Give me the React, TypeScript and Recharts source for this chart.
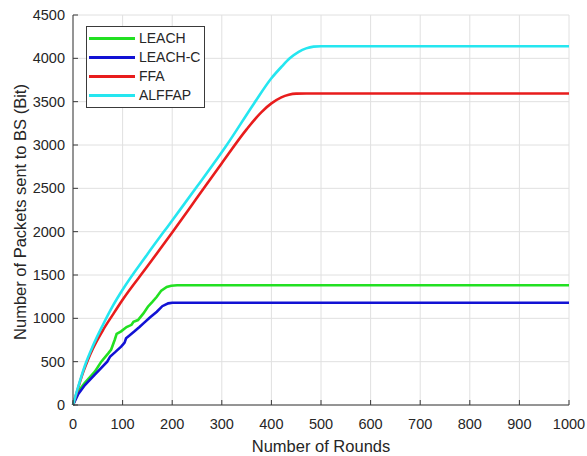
import { LineChart, Line, XAxis, YAxis, CartesianGrid } from 'recharts'

// rounds / packets
const leachX = [0, 10, 23, 44, 57, 71, 77, 84, 88, 97, 108, 118, 122, 131, 142, 151, 160, 169, 178, 189, 198, 210, 1000]
const leachY = [0, 150, 250, 384, 500, 596, 640, 750, 820, 850, 900, 925, 960, 980, 1057, 1134, 1190, 1249, 1320, 1362, 1376, 1382, 1382]

const leachCX = [0, 10, 24, 44, 69, 75, 85, 97, 101, 104, 107, 115, 124, 134, 142, 155, 169, 180, 192, 200, 1000]
const leachCY = [0, 120, 230, 350, 500, 560, 610, 673, 700, 720, 770, 807, 850, 900, 942, 1010, 1076, 1140, 1173, 1180, 1180]

const ffaX = [0, 10, 20, 30, 40, 60, 80, 100, 150, 200, 250, 300, 350, 380, 400, 420, 435, 450, 470, 1000]
const ffaY = [0, 190, 370, 520, 650, 860, 1040, 1215, 1600, 1990, 2390, 2790, 3180, 3380, 3480, 3550, 3580, 3593, 3595, 3595]

const alffapX = [0, 10, 25, 40, 60, 80, 100, 150, 200, 250, 310, 365, 400, 420, 437, 455, 470, 485, 500, 1000]
const alffapY = [0, 200, 470, 680, 920, 1140, 1330, 1740, 2130, 2520, 3000, 3480, 3770, 3900, 4000, 4075, 4115, 4135, 4140, 4140]

const xTicks = [0, 100, 200, 300, 400, 500, 600, 700, 800, 900, 1000]
const yTicks = [0, 500, 1000, 1500, 2000, 2500, 3000, 3500, 4000, 4500]

const toPoints = (xs: number[], ys: number[]) => xs.map((x, i) => ({ x, y: ys[i] }))

const series = [
  { name: 'LEACH', color: '#22e022', data: toPoints(leachX, leachY), type: 'linear' },
  { name: 'LEACH-C', color: '#1212d4', data: toPoints(leachCX, leachCY), type: 'linear' },
  { name: 'FFA', color: '#e81c1c', data: toPoints(ffaX, ffaY), type: 'monotone' },
  { name: 'ALFFAP', color: '#25e6f0', data: toPoints(alffapX, alffapY), type: 'monotone' },
]

const font = '"Liberation Sans", Arial, sans-serif'
const textColor = '#262626'
const axisColor = '#3a3a3a'

export default function App() {
  return (
    <div style={{ position: 'absolute', left: 0, top: 0, width: 587, height: 456, fontFamily: font }}>
      <LineChart width={587} height={456} margin={{ top: 15, right: 18, bottom: 0, left: 0 }}>
        <CartesianGrid stroke="#e0e0e0" strokeWidth={1} xAxisId="bottom" yAxisId="left" />
        <XAxis
          xAxisId="bottom"
          dataKey="x"
          type="number"
          domain={[0, 1000]}
          ticks={xTicks}
          allowDuplicatedCategory={false}
          height={51}
          stroke={axisColor}
          tickSize={-5}
          tickMargin={19}
          tick={{ fontSize: 14.5, fill: textColor, fontFamily: font }}
          label={{
            value: 'Number of Rounds',
            position: 'insideBottom',
            offset: 4,
            fill: textColor,
            fontSize: 16.5,
            fontFamily: font,
          }}
        />
        {/* box: top and right edges with inward ticks */}
        <XAxis
          xAxisId="top"
          orientation="top"
          type="number"
          domain={[0, 1000]}
          ticks={xTicks}
          height={0}
          stroke={axisColor}
          tickSize={-5}
          tick={false}
        />
        <YAxis
          yAxisId="left"
          type="number"
          domain={[0, 4500]}
          ticks={yTicks}
          width={73}
          stroke={axisColor}
          tickSize={-5}
          tickMargin={13}
          tick={{ fontSize: 14.5, fill: textColor, fontFamily: font }}
          label={{
            value: 'Number of Packets sent to BS (Bit)',
            angle: -90,
            position: 'center',
            dx: -16,
            dy: 2,
            fill: textColor,
            fontSize: 16.5,
            fontFamily: font,
          }}
        />
        <YAxis
          yAxisId="right"
          orientation="right"
          type="number"
          domain={[0, 4500]}
          ticks={yTicks}
          width={0}
          stroke={axisColor}
          tickSize={-5}
          tick={false}
        />
        {series.map((s) => (
          <Line
            key={s.name}
            xAxisId="bottom"
            yAxisId="left"
            data={s.data}
            dataKey="y"
            name={s.name}
            type={s.type as 'linear' | 'monotone'}
            stroke={s.color}
            strokeWidth={2.6}
            dot={false}
            isAnimationActive={false}
          />
        ))}
      </LineChart>

      {/* legend box */}
      <div
        style={{
          position: 'absolute',
          left: 86,
          top: 26,
          width: 117,
          height: 78,
          background: '#fff',
          border: `1px solid ${axisColor}`,
          padding: '2px 0 0 0',
          boxSizing: 'content-box',
        }}
      >
        {series.map((s) => (
          <div key={s.name} style={{ display: 'flex', alignItems: 'center', height: 19 }}>
            <div style={{ width: 46, height: 3.5, background: s.color, marginLeft: 2, marginRight: 4 }} />
            <span style={{ fontSize: 14, color: textColor, lineHeight: '19px' }}>{s.name}</span>
          </div>
        ))}
      </div>
    </div>
  )
}
